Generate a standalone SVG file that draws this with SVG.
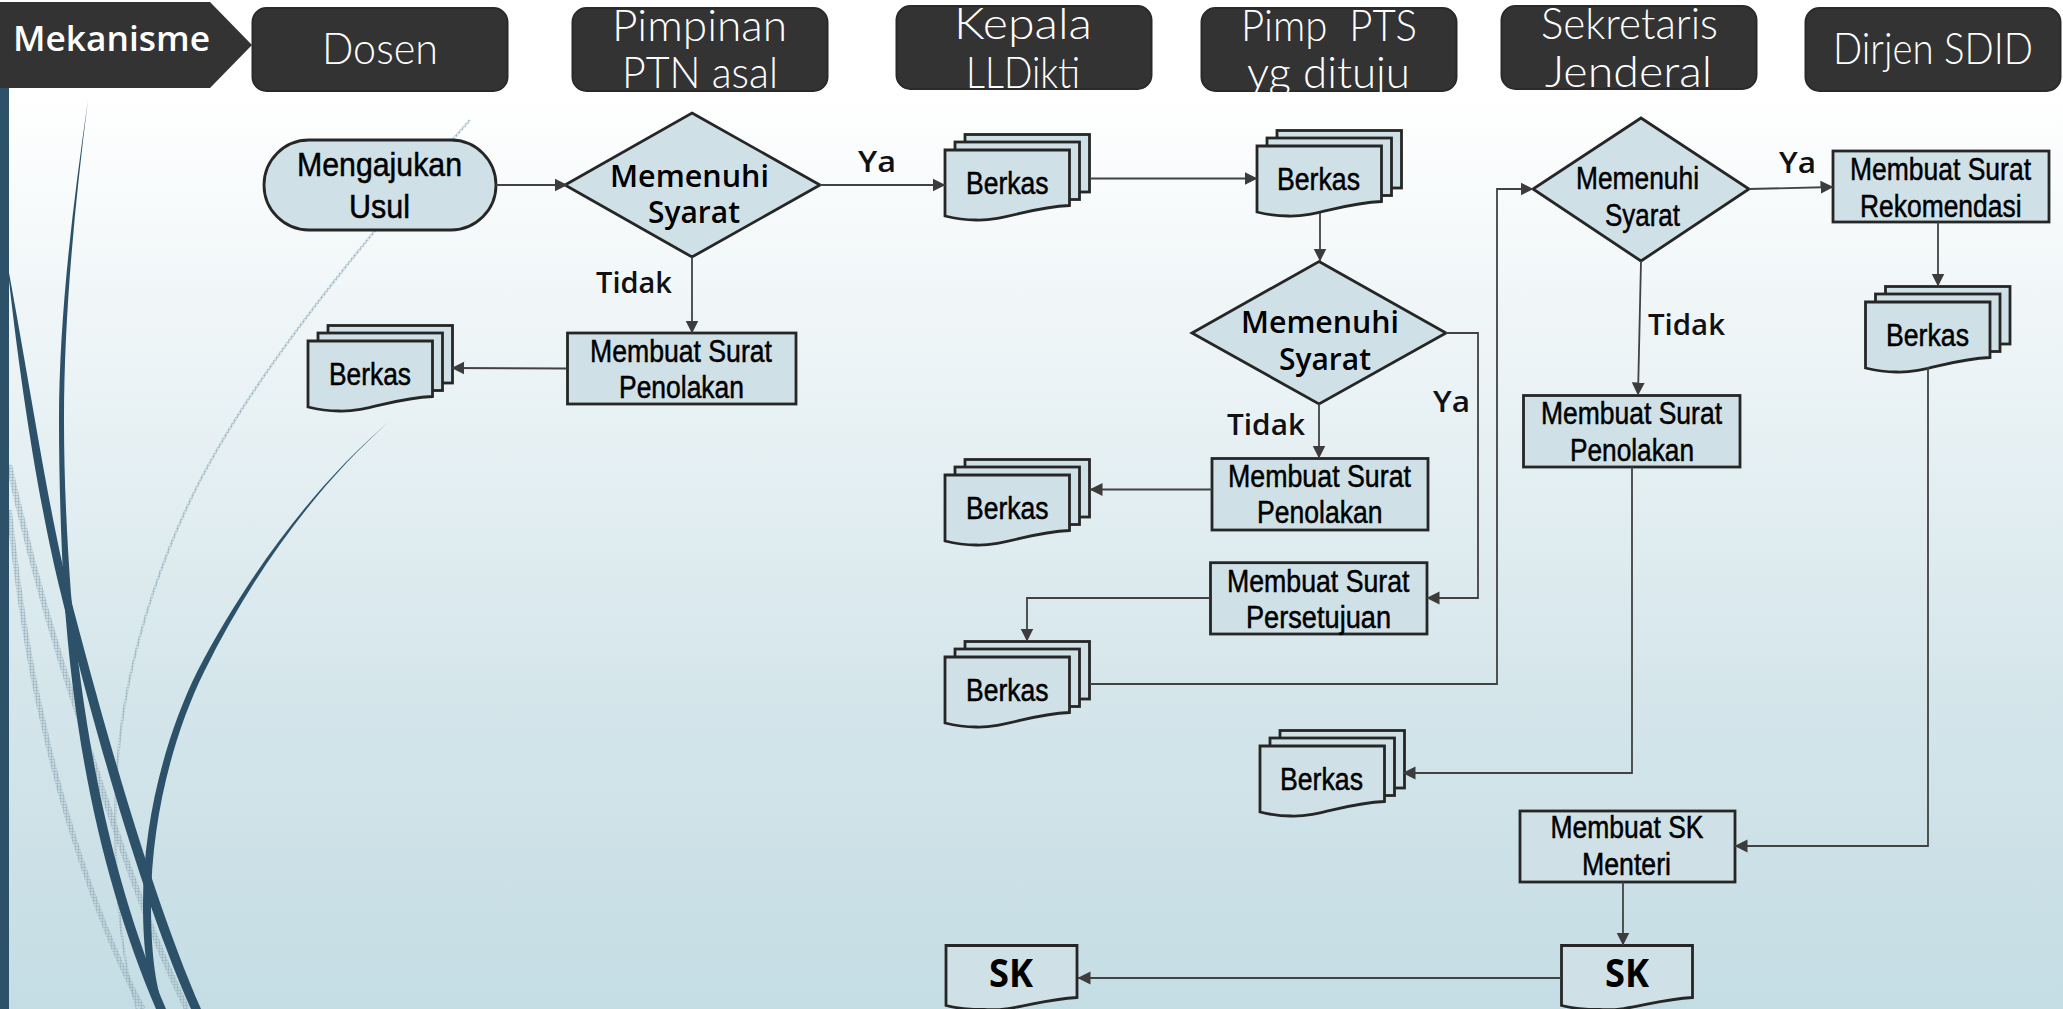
<svg xmlns="http://www.w3.org/2000/svg" xmlns:xlink="http://www.w3.org/1999/xlink" width="2063" height="1009" viewBox="0 0 2063 1009">
<style>
.hd{fill:#333;stroke:#2a2a2a;stroke-width:2}
.ht{font-family:"Lato","Open Sans",sans-serif;font-weight:300;font-size:43px;fill:#fff}
.n{fill:#cfe1e7;stroke:#262626;stroke-width:2.8;stroke-linejoin:miter}
.t{font-family:"Liberation Sans",Arial,sans-serif;font-size:31px;fill:#000;stroke:#000;stroke-width:.5}
.b{font-family:"Open Sans","Liberation Sans",sans-serif;font-weight:600;font-size:30px;fill:#000}
.l{font-family:"Open Sans","Liberation Sans",sans-serif;font-weight:600;font-size:29px;fill:#111}
.c{fill:none;stroke:#424242;stroke-width:1.8;marker-end:url(#arr)}
.sw{fill:#2c5168}
.hg{fill:none;stroke:url(#hatch);stroke-linecap:butt}
</style>
<defs>
<linearGradient id="bg" x1="0" y1="0" x2="0" y2="1009" gradientUnits="userSpaceOnUse">
<stop offset="0.09" stop-color="#fff"/><stop offset="0.68" stop-color="#d5e6eb"/><stop offset="1" stop-color="#c4dde4"/>
</linearGradient>
<pattern id="hatch" width="3" height="3" patternUnits="userSpaceOnUse">
<rect width="3" height="3" fill="#a9bfc9" fill-opacity=".35"/><path d="M0 0H3M0 0V3" stroke="#95adb9" stroke-width="1"/>
</pattern>
<marker id="arr" markerUnits="userSpaceOnUse" markerWidth="14" markerHeight="14" refX="12.5" refY="7" orient="auto">
<path d="M0 .5L13 7L0 13.5Z" fill="#3c3c3c"/>
</marker>
<g id="stack">
<rect class="n" x="20" y="-15.5" width="124.5" height="57.5"/>
<rect class="n" x="10" y="-8" width="124.5" height="57.5"/>
<path class="n" d="M0 0H124.5V55.5C85 57 60 71 31 70C18 70 8 68 0 66Z"/>
</g>
<path id="skdoc" class="n" d="M0 0H131V52C92 54 70 66 38 64C22 64 8 62 0 60Z"/>
</defs>
<rect width="2063" height="1009" fill="url(#bg)"/>
<g id="swooshes">
<path class="hg" stroke-width="2.5" d="M470 120C390 210 280 340 217 450C170 530 125 650 117 769C112 850 118 950 137 1009"/>
<path class="hg" stroke-width="6" d="M9 465C28 550 50 630 77 711C105 800 145 925 187 1009"/>
<path class="hg" stroke-width="5.500" d="M9 510C18 590 28 660 43 722C62 810 100 930 143 1009"/>
<path class="sw" d="M7 262C20 385 40 510 61 594C88 705 138 890 191 1009H201C148 888 98 703 69 592C48 508 30 385 7 262Z"/>
<path class="sw" d="M88 100C72 210 59 320 59 420C59 480 61 540 64 594C76 770 110 900 156 1009H166C120 900 87 770 71 594C67 540 64 480 64 420C64 320 74 210 88 100Z"/>
<path class="sw" d="M389 422C320 480 250 570 197 672C166 735 143 820 143 905C143 950 148 985 158 1009H164C155 985 151 950 151 905C151 820 173 735 204 672C254 570 322 480 389 422Z"/>
<rect class="sw" x="0" y="88" width="9" height="921"/>
</g>

<g id="header-mekanisme"><path d="M0 2H210L252 45L210 88H0Z" fill="#333"/><text x="13" y="51" textLength="197" lengthAdjust="spacingAndGlyphs" font-family="'Open Sans',sans-serif" font-weight="600" font-size="35" fill="#fff">Mekanisme</text></g>
<g id="header-dosen"><rect class="hd" x="252.500" y="8" width="255" height="83" rx="14"/><text class="ht" x="322" y="64" textLength="116" lengthAdjust="spacingAndGlyphs">Dosen</text></g>
<g id="header-pimpinan"><rect class="hd" x="572.500" y="8" width="255" height="83" rx="14"/><text class="ht" x="612" y="41" textLength="175" lengthAdjust="spacingAndGlyphs">Pimpinan</text><text class="ht" x="622" y="88" textLength="156" lengthAdjust="spacingAndGlyphs">PTN asal</text></g>
<g id="header-kepala"><rect class="hd" x="896.500" y="6" width="255" height="83" rx="14"/><text class="ht" x="954" y="39" textLength="138" lengthAdjust="spacingAndGlyphs">Kepala</text><text class="ht" x="966" y="88" textLength="114" lengthAdjust="spacingAndGlyphs">LLDikti</text></g>
<g id="header-pimp"><rect class="hd" x="1201.500" y="8" width="255" height="83" rx="14"/><text class="ht" x="1241" y="41" textLength="176" lengthAdjust="spacingAndGlyphs" xml:space="preserve">Pimp  PTS</text><text class="ht" x="1247" y="88" textLength="163" lengthAdjust="spacingAndGlyphs">yg dituju</text></g>
<g id="header-sekjen"><rect class="hd" x="1501.500" y="6" width="255" height="83" rx="14"/><text class="ht" x="1541" y="39" textLength="177" lengthAdjust="spacingAndGlyphs">Sekretaris</text><text class="ht" x="1545" y="87" textLength="167" lengthAdjust="spacingAndGlyphs">Jenderal</text></g>
<g id="header-dirjen"><rect class="hd" x="1805.500" y="8" width="255" height="83" rx="14"/><text class="ht" x="1833" y="64" textLength="200" lengthAdjust="spacingAndGlyphs">Dirjen SDID</text></g>

<g id="usul"><rect class="n" x="264" y="140" width="232" height="90" rx="45" ry="45"/><text class="t" style="font-size:34px" x="297" y="176" textLength="165" lengthAdjust="spacingAndGlyphs">Mengajukan</text><text class="t" style="font-size:34px" x="349" y="218" textLength="61" lengthAdjust="spacingAndGlyphs">Usul</text></g>
<g id="d1"><path class="n" d="M692 113L820 185L692 257L565 185Z"/><text class="b" x="610" y="187" textLength="159" lengthAdjust="spacingAndGlyphs">Memenuhi</text><text class="b" x="648" y="223" textLength="92" lengthAdjust="spacingAndGlyphs">Syarat</text></g>
<g id="tolak1"><rect class="n" x="567.500" y="333" width="228.500" height="71"/><text class="t" x="590" y="362" textLength="182" lengthAdjust="spacingAndGlyphs">Membuat Surat</text><text class="t" x="619" y="398" textLength="125" lengthAdjust="spacingAndGlyphs">Penolakan</text></g>
<g id="berkas1"><use xlink:href="#stack" href="#stack" x="308" y="341"/><text class="t" x="329" y="385" textLength="82" lengthAdjust="spacingAndGlyphs">Berkas</text></g>
<g id="berkas2"><use xlink:href="#stack" href="#stack" x="945" y="150"/><text class="t" x="966" y="194" textLength="82.500" lengthAdjust="spacingAndGlyphs">Berkas</text></g>
<g id="berkas3"><use xlink:href="#stack" href="#stack" x="1257" y="146"/><text class="t" x="1277" y="190" textLength="83" lengthAdjust="spacingAndGlyphs">Berkas</text></g>
<g id="d2"><path class="n" d="M1319 261.500L1446 333L1319 404L1192 333Z"/><text class="b" x="1241" y="333" textLength="158" lengthAdjust="spacingAndGlyphs">Memenuhi</text><text class="b" x="1279" y="370" textLength="92" lengthAdjust="spacingAndGlyphs">Syarat</text></g>
<g id="tolak2"><rect class="n" x="1212" y="458.500" width="216" height="71.500"/><text class="t" x="1228" y="486.500" textLength="183" lengthAdjust="spacingAndGlyphs">Membuat Surat</text><text class="t" x="1257" y="523" textLength="125.500" lengthAdjust="spacingAndGlyphs">Penolakan</text></g>
<g id="berkas4"><use xlink:href="#stack" href="#stack" x="945" y="475"/><text class="t" x="966" y="519" textLength="82.500" lengthAdjust="spacingAndGlyphs">Berkas</text></g>
<g id="setuju"><rect class="n" x="1210.500" y="562.700" width="216.500" height="71.300"/><text class="t" x="1227" y="592" textLength="182.500" lengthAdjust="spacingAndGlyphs">Membuat Surat</text><text class="t" x="1246" y="628" textLength="145" lengthAdjust="spacingAndGlyphs">Persetujuan</text></g>
<g id="berkas5"><use xlink:href="#stack" href="#stack" x="945" y="657"/><text class="t" x="966" y="701" textLength="82.500" lengthAdjust="spacingAndGlyphs">Berkas</text></g>
<g id="d3"><path class="n" d="M1641 118L1749 189L1641 261L1533 189Z"/><text class="t" x="1576" y="189" textLength="123" lengthAdjust="spacingAndGlyphs">Memenuhi</text><text class="t" x="1605" y="226" textLength="75" lengthAdjust="spacingAndGlyphs">Syarat</text></g>
<g id="rekom"><rect class="n" x="1833" y="151" width="216" height="71"/><text class="t" x="1850" y="180" textLength="181" lengthAdjust="spacingAndGlyphs">Membuat Surat</text><text class="t" x="1860" y="217" textLength="161.500" lengthAdjust="spacingAndGlyphs">Rekomendasi</text></g>
<g id="berkas6"><use xlink:href="#stack" href="#stack" x="1865.500" y="302"/><text class="t" x="1886" y="346" textLength="83" lengthAdjust="spacingAndGlyphs">Berkas</text></g>
<g id="tolak3"><rect class="n" x="1523.500" y="395.500" width="216.500" height="71.500"/><text class="t" x="1541" y="424" textLength="181" lengthAdjust="spacingAndGlyphs">Membuat Surat</text><text class="t" x="1570" y="461" textLength="124" lengthAdjust="spacingAndGlyphs">Penolakan</text></g>
<g id="berkas7"><use xlink:href="#stack" href="#stack" x="1260" y="746"/><text class="t" x="1280" y="790" textLength="83" lengthAdjust="spacingAndGlyphs">Berkas</text></g>
<g id="skmenteri"><rect class="n" x="1520" y="811" width="215" height="71"/><text class="t" x="1550.500" y="838" textLength="153" lengthAdjust="spacingAndGlyphs">Membuat SK</text><text class="t" x="1582" y="875" textLength="89" lengthAdjust="spacingAndGlyphs">Menteri</text></g>
<g id="sk2"><use xlink:href="#skdoc" href="#skdoc" x="1561.500" y="945.500"/><text x="1605" y="987" textLength="44" lengthAdjust="spacingAndGlyphs" font-family="'Open Sans',sans-serif" font-weight="700" font-size="40">SK</text></g>
<g id="sk1"><use xlink:href="#skdoc" href="#skdoc" x="946" y="945.500"/><text x="989" y="987" textLength="44" lengthAdjust="spacingAndGlyphs" font-family="'Open Sans',sans-serif" font-weight="700" font-size="40">SK</text></g>

<g id="connectors">
<path class="c" d="M496 185H567"/>
<path class="c" d="M820 185H945"/>
<path class="c" d="M692 257V333"/>
<path class="c" d="M567 368.500L452 368"/>
<path class="c" d="M1090 178.500H1257"/>
<path class="c" d="M1320 213V261"/>
<path class="c" d="M1319 404V458"/>
<path class="c" d="M1212 489.500H1090"/>
<path class="c" d="M1446 333H1478V598H1427"/>
<path class="c" d="M1210 598H1027V641"/>
<path class="c" d="M1090 684H1497V189H1533"/>
<path class="c" d="M1749 189L1833 187"/>
<path class="c" d="M1641 261L1638 395"/>
<path class="c" d="M1938 222V286"/>
<path class="c" d="M1632 467V773H1403"/>
<path class="c" d="M1928 367V846H1735"/>
<path class="c" d="M1623 882V945"/>
<path class="c" d="M1561 978H1078"/>
</g>
<g id="labels">
<text class="l" x="858" y="172" textLength="38" lengthAdjust="spacingAndGlyphs">Ya</text>
<text class="l" x="596" y="293" textLength="76" lengthAdjust="spacingAndGlyphs">Tidak</text>
<text class="l" x="1227" y="435" textLength="78" lengthAdjust="spacingAndGlyphs">Tidak</text>
<text class="l" x="1433" y="412" textLength="37" lengthAdjust="spacingAndGlyphs">Ya</text>
<text class="l" x="1779" y="173" textLength="37" lengthAdjust="spacingAndGlyphs">Ya</text>
<text class="l" x="1648" y="335" textLength="77" lengthAdjust="spacingAndGlyphs">Tidak</text>
</g>
</svg>
